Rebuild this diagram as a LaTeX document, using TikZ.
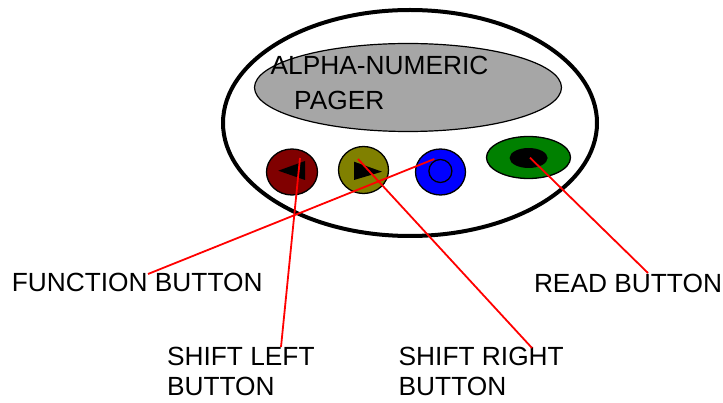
\documentclass[tikz,border=0pt]{standalone}
\usepackage{fontspec}
\setmainfont{Liberation Sans}
\usetikzlibrary{shapes.geometric}
\definecolor{screengray}{HTML}{A6A6A6}
\definecolor{btnred}{HTML}{800000}
\definecolor{btnolive}{HTML}{808000}
\definecolor{btnblue}{HTML}{0000FF}
\definecolor{btngreen}{HTML}{008000}
\begin{document}
\begin{tikzpicture}[x=1pt,y=-1pt,
  btn/.style={ellipse, draw=black, line width=1.3pt, inner sep=0pt},
  lbl/.style={anchor=base west, inner sep=0pt, align=left, font=\fontsize{26.3}{30}\selectfont},
  lead/.style={draw=red, line width=1.8pt}]
\useasboundingbox (0,0) rectangle (723,403);
% body
\node[ellipse, draw=black, fill=white, line width=4pt, minimum width=374pt, minimum height=226pt, inner sep=0pt] (body) at (410,123) {};
\node[ellipse, draw=black, fill=screengray, line width=1.2pt, minimum width=307pt, minimum height=88pt, inner sep=0pt] (screen) at (408,87.5) {};
\node[lbl] (title1) at (270.5,75) {ALPHA-NUMERIC};
\node[lbl] (title2) at (294,110) {PAGER};
% buttons
\node[btn, fill=btnred, minimum width=51pt, minimum height=46pt] (leftb) at (292,172) {};
\node[btn, fill=btnolive, minimum width=50pt, minimum height=47pt] (rightb) at (363.5,170) {};
\node[btn, fill=btnblue, minimum width=50pt, minimum height=46pt] (funcb) at (440.5,172) {};
\node[btn, fill=btngreen, minimum width=84pt, minimum height=42pt] (readb) at (528.5,157.5) {};
\node[ellipse, fill=black, minimum width=38pt, minimum height=20pt, inner sep=0pt] (readin) at (528.6,158) {};
\node[circle, draw=black, line width=1.3pt, minimum size=23pt, inner sep=0pt] (funcin) at (440.4,171) {};
\fill[black] (278.3,170.7) -- (305,161) -- (305,180) -- cycle;
\fill[black] (354,161.7) -- (354,180) -- (382,171.7) -- cycle;
% leader ends
\coordinate (leftp) at (300,158);
\coordinate (rightp) at (358,159);
\coordinate (funcp) at (434.3,159);
\coordinate (readp) at (530,157.7);
% labels
\node[lbl] (funcl) at (11.6,291.7) {FUNCTION BUTTON};
\node[lbl] (readl) at (533.8,292.7) {READ BUTTON};
\node[lbl] (leftl) at (166.8,395) {SHIFT LEFT\\BUTTON};
\node[lbl] (rightl) at (398.5,395) {SHIFT RIGHT\\BUTTON};
\coordinate (funce) at (148,274);
\coordinate (reade) at (648,273);
\coordinate (lefte) at (281,347);
\coordinate (righte) at (532,348);
% leaders
\path[lead] (funce) -- (funcp);
\path[lead] (lefte) -- (leftp);
\path[lead] (righte) -- (rightp);
\path[lead] (reade) -- (readp);
\end{tikzpicture}
\end{document}
